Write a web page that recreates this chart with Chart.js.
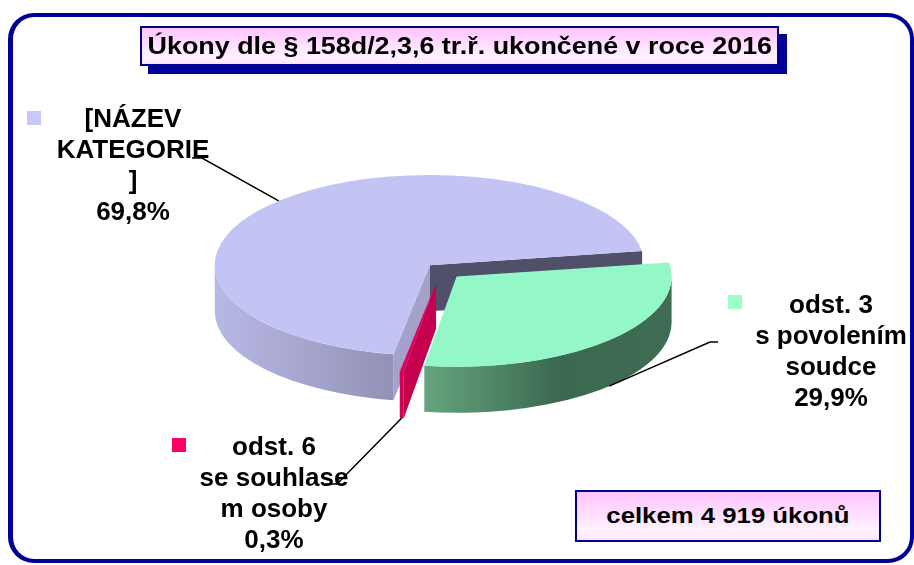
<!DOCTYPE html>
<html lang="cs">
<head>
<meta charset="UTF-8">
<title>Úkony dle § 158d/2,3,6 tr.ř. ukončené v roce 2016</title>
<script src="https://cdn.jsdelivr.net/npm/chart.js"></script>
<style>
    body {
        margin: 0;
        background: #fff;
        font-family: 'Liberation Sans', Arial, sans-serif;
    }

    .page {
        position: relative;
        width: 914px;
        height: 565px;
        overflow: hidden;
    }

    .frame {
        position: absolute;
        left: 8px;
        top: 13px;
        width: 906px;
        height: 550px;
        box-sizing: border-box;
        border: 4px solid #000099;
        border-left-width: 5px;
        border-radius: 26px;
    }

    #pie {
        position: absolute;
        left: 0;
        top: 0;
    }

    .box {
        position: absolute;
        box-sizing: border-box;
        border: 2px solid #000088;
        background: linear-gradient(#ffc4ff, #fff2ff 80%, #ffe4ff);
        font-weight: bold;
        color: #000;
        text-align: center;
        white-space: nowrap;
    }

    .box span {
        display: inline-block;
    }

    .title-box {
        left: 140px;
        top: 26px;
        width: 639px;
        height: 40px;
        line-height: 36px;
        font-size: 24px;
        box-shadow: 8px 8px 0 #000099;
    }

    .title-box span {
        transform: scaleX(1.12);
    }

    .total-box {
        left: 575px;
        top: 490px;
        width: 306px;
        height: 52px;
        line-height: 48px;
        font-size: 22px;
    }

    .total-box span {
        transform: scaleX(1.17);
    }
</style>
</head>
<body>
<div class="page">
    <div class="frame"></div>
    <canvas id="pie" width="914" height="565"></canvas>
    <div class="box title-box"><span id="title"></span></div>
    <div class="box total-box"><span id="total"></span></div>
</div>

<script>
    // data (order = clockwise from the right-hand edge of the pie)
    const titleText = 'Úkony dle § 158d/2,3,6 tr.ř. ukončené v roce 2016';
    const categories = ['odst. 3 s povolením soudce', 'odst. 6 se souhlasem osoby', '[NÁZEV KATEGORIE]'];
    const labelLines = [
        ['odst. 3', 's povolením', 'soudce'],
        ['odst. 6', 'se souhlase', 'm osoby'],
        ['[NÁZEV', 'KATEGORIE', ']']
    ];
    const shares = [29.9, 0.3, 69.8];
    const totalActs = 4919;

    // look of the 3d pie
    const TILT = 0.42;
    const DEPTH = 46;
    const topColors = ['#94f7c8', '#e2005e', '#c4c4f4'];
    const keyColors = ['#99ffcc', '#ff0066', '#c8c8fc'];
    const faceColors = ['#3f6d53', '#c4004f', '#a2a2ca'];   // cut face at slice start
    const endFaceColors = ['#3f6d53', '#c4004f', '#50506a']; // cut face at slice end
    const explode = [22, 31, 16];

    // label placement: text centre x, first baseline y, key square, leader elbow + end
    const labelPos = [
        { x: 831, y: 313, key: [728, 295], elbow: [710, 342], end: [718, 342] },
        { x: 274, y: 455, key: [172, 438], elbow: [337, 484], end: [325, 484] },
        { x: 133, y: 127, key: [27, 111], elbow: [202, 158], end: [192, 158] }
    ];

    document.getElementById('title').textContent = titleText;
    const fmtTotal = String(totalActs).replace(/\B(?=(\d{3})+(?!\d))/g, ' ');
    document.getElementById('total').textContent = 'celkem ' + fmtTotal + ' úkonů';

    const TAU = Math.PI * 2;

    function sliceCenter(arc, i) {
        const mid = (arc.startAngle + arc.endAngle) / 2;
        return {
            x: arc.x + explode[i] * Math.cos(mid),
            y: arc.y + explode[i] * TILT * Math.sin(mid)
        };
    }

    function wallFill(ctx, i, c, r) {
        if (i === 0) {
            const g = ctx.createLinearGradient(c.x - r, 0, c.x + r, 0);
            g.addColorStop(0, '#8ad0aa');
            g.addColorStop(0.42, '#66a680');
            g.addColorStop(0.74, '#3b6850');
            g.addColorStop(1, '#3f6d53');
            return g;
        }
        if (i === 2) {
            const g = ctx.createLinearGradient(c.x - r, 0, c.x, 0);
            g.addColorStop(0, '#b8b8e6');
            g.addColorStop(1, '#8a8aac');
            return g;
        }
        return '#d00054';
    }

    // front rim of a slice: only the part with sin > 0 faces the viewer
    function drawOuterWall(ctx, c, r, a, b, fill) {
        for (let k = -1; k <= 2; k++) {
            const s = Math.max(a, k * TAU);
            const e = Math.min(b, k * TAU + Math.PI);
            if (e <= s) continue;
            ctx.beginPath();
            ctx.ellipse(c.x, c.y, r, r * TILT, 0, s, e);
            ctx.ellipse(c.x, c.y + DEPTH, r, r * TILT, 0, e, s, true);
            ctx.closePath();
            ctx.fillStyle = fill;
            ctx.fill();
        }
    }

    function drawCutFace(ctx, c, r, ang, fill) {
        const px = c.x + r * Math.cos(ang);
        const py = c.y + r * TILT * Math.sin(ang);
        ctx.beginPath();
        ctx.moveTo(c.x, c.y);
        ctx.lineTo(px, py);
        ctx.lineTo(px, py + DEPTH);
        ctx.lineTo(c.x, c.y + DEPTH);
        ctx.closePath();
        ctx.fillStyle = fill;
        ctx.fill();
    }

    const pie3d = {
        id: 'pie3d',
        beforeDatasetsDraw(chart) {
            const ctx = chart.ctx;
            const arcs = chart.getDatasetMeta(0).data;
            // back slice first, front slices last
            [2, 1, 0].forEach(i => {
                const arc = arcs[i];
                const r = arc.outerRadius;
                const c = sliceCenter(arc, i);
                const a = arc.startAngle, b = arc.endAngle;
                ctx.save();
                if (Math.cos(a) < 0) drawCutFace(ctx, c, r, a, faceColors[i]);
                if (Math.cos(b) > 0) drawCutFace(ctx, c, r, b, endFaceColors[i]);
                drawOuterWall(ctx, c, r, a, b, wallFill(ctx, i, c, r));
                ctx.restore();

                // top face: the library's own arc, squashed into an ellipse
                ctx.save();
                ctx.translate(c.x, c.y);
                ctx.scale(1, TILT);
                ctx.translate(-arc.x, -arc.y);
                arc.draw(ctx);
                ctx.restore();
            });
            return false;
        },
        afterDraw(chart) {
            const ctx = chart.ctx;
            const arcs = chart.getDatasetMeta(0).data;
            ctx.save();
            arcs.forEach((arc, i) => {
                const p = labelPos[i];
                const c = sliceCenter(arc, i);
                const mid = (arc.startAngle + arc.endAngle) / 2;
                const r = arc.outerRadius;
                let sx = c.x + r * Math.cos(mid);
                let sy = c.y + r * TILT * Math.sin(mid);
                if (Math.sin(mid) > 0) sy += DEPTH;

                ctx.strokeStyle = '#000';
                ctx.lineWidth = 1.5;
                ctx.beginPath();
                ctx.moveTo(sx, sy);
                ctx.lineTo(p.elbow[0], p.elbow[1]);
                ctx.lineTo(p.end[0], p.end[1]);
                ctx.stroke();

                ctx.fillStyle = keyColors[i];
                ctx.fillRect(p.key[0], p.key[1], 14, 14);

                const lines = labelLines[i].concat(shares[i].toFixed(1).replace('.', ',') + '%');
                ctx.fillStyle = '#000';
                ctx.font = "bold 26px 'Liberation Sans', Arial, sans-serif";
                ctx.textAlign = 'center';
                ctx.textBaseline = 'alphabetic';
                lines.forEach((t, k) => ctx.fillText(t, p.x, p.y + k * 31));
            });
            ctx.restore();
        }
    };

    new Chart(document.getElementById('pie'), {
        type: 'pie',
        data: {
            labels: categories,
            datasets: [{
                data: shares,
                backgroundColor: topColors,
                borderWidth: 0,
                radius: 215
            }]
        },
        options: {
            responsive: false,
            animation: false,
            events: [],
            rotation: 81,
            layout: { padding: { left: 226, right: 258, top: 55, bottom: 80 } },
            plugins: {
                legend: { display: false },
                tooltip: { enabled: false }
            }
        },
        plugins: [pie3d]
    });
</script>
</body>
</html>
